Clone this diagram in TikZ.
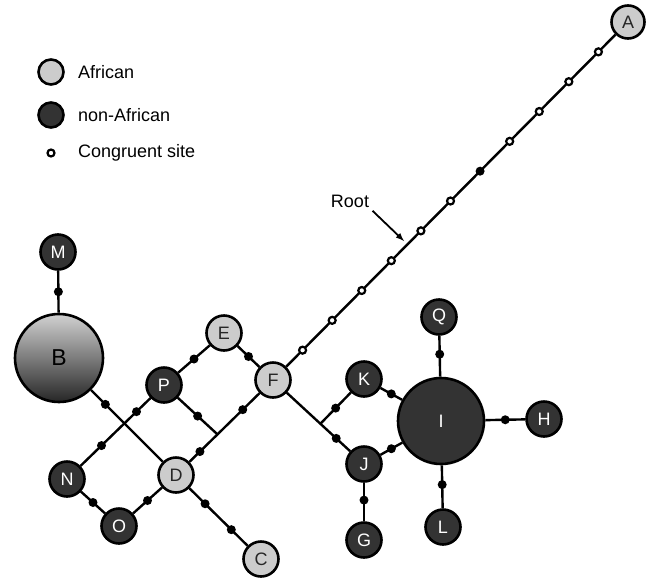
\documentclass[tikz,border=0pt]{standalone}
\usepackage{fontspec}
\setmainfont{Liberation Sans}
\usetikzlibrary{calc}
\begin{document}
\begin{tikzpicture}[x=1pt,y=-1pt,font=\fontsize{18}{21}\selectfont,
	hap/.style={circle,draw=black,line width=2.6pt,minimum size=35pt,inner sep=0pt},
	afr/.style={hap,fill=black!20,text=black!85},
	nonafr/.style={hap,fill=black!80,text=white},
	site/.style={circle,fill=black,inner sep=0pt,minimum size=9pt},
	csite/.style={circle,draw=black,fill=white,line width=2.2pt,inner sep=0pt,minimum size=7pt},
	link/.style={line width=2.4pt}]
	\useasboundingbox (0,0) rectangle (651,579);
	% Legend
	\node [afr,minimum size=25pt] (legafr) at (51,72) {};
		\node [anchor=west,inner sep=2pt] (legafrtxt) at (76,72) {African};
	\node [nonafr,minimum size=25pt] (legnon) at (51,115) {};
		\node [anchor=west,inner sep=2pt] (legnontxt) at (76,115) {non-African};
	\node [csite] (legsite) at (51,153) {};
		\node [anchor=west,inner sep=2pt] (legsitetxt) at (76,153) {Congruent site};
	% Haplotypes
	\node [afr,minimum size=33pt] (A) at (628,22) {A};
	\node [nonafr] (M) at (58,252) {M};
	\node [hap,minimum size=88pt,top color=black!18,bottom color=black!85,
		font=\fontsize{23}{26}\selectfont] (B) at (59,358) {B};
	\node [afr] (E) at (224,333) {E};
	\node [nonafr] (P) at (164,385) {P};
	\node [afr] (F) at (273,380) {F};
	\node [nonafr] (N) at (67,479) {N};
	\node [afr] (D) at (176,475) {D};
	\node [nonafr] (O) at (119,526) {O};
	\node [afr] (C) at (261,559) {C};
	\node [nonafr] (K) at (364,379) {K};
	\node [nonafr] (J) at (364,464) {J};
	\node [nonafr,minimum size=86pt] (I) at (441,421) {I};
	\node [nonafr] (Q) at (439,317) {Q};
	\node [nonafr] (L) at (443,527) {L};
	\node [nonafr] (G) at (364,540) {G};
	\node [nonafr] (H) at (544,419) {H};
	% Left network
	\draw [link] (M) -- node [site] {} (B);
	\draw [link] (B) -- node [site,pos=0.2] {} (D);
	\draw [link] (N) -- node [site,pos=0.3] {} node [site,pos=0.8] {} (P);
	\draw [link] (P) -- node [site] {} (E);
	\draw [link] (E) -- node [site] {} (F);
	\draw [link] (D) -- node [site,pos=0.15] {} coordinate [pos=0.4] (pf) node [site,pos=0.76] {} (F);
	\draw [link] (P) -- node [site] {} (pf);
	\draw [link] (N) -- node [site] {} (O);
	\draw [link] (O) -- node [site] {} (D);
	\draw [link] (D) -- node [site,pos=0.27] {} node [site,pos=0.72] {} (C);
	% Right network
	\draw [link] (F) -- coordinate [pos=0.53] (fk) node [site,pos=0.78] {} (J);
	\draw [link] (fk) -- node [site] {} (K);
	\draw [link] (K) -- node [site] {} (I);
	\draw [link] (J) -- node [site] {} (I);
	\draw [link] (Q) -- node [site,pos=0.45] {} (I);
	\draw [link] (I) -- node [site,pos=0.45] {} (L);
	\draw [link] (J) -- node [site,pos=0.45] {} (G);
	\draw [link] (I) -- node [site] {} (H);
	% Long branch to A
	\draw [link] (F) -- (A);
	\foreach \k in {1,...,6,8,9,10,11}
		\node [csite] (s\k) at ($(F.center)!\k/12!(A.center)$) {};
	\node [site] (s7) at ($(F.center)!7/12!(A.center)$) {};
	% Root arrow
	\node (root) at (350,201) {Root};
	\coordinate (rootpt) at (404,241);
	\draw [line width=1.8pt,-latex] (root.south east) -- (rootpt);
\end{tikzpicture}
\end{document}
